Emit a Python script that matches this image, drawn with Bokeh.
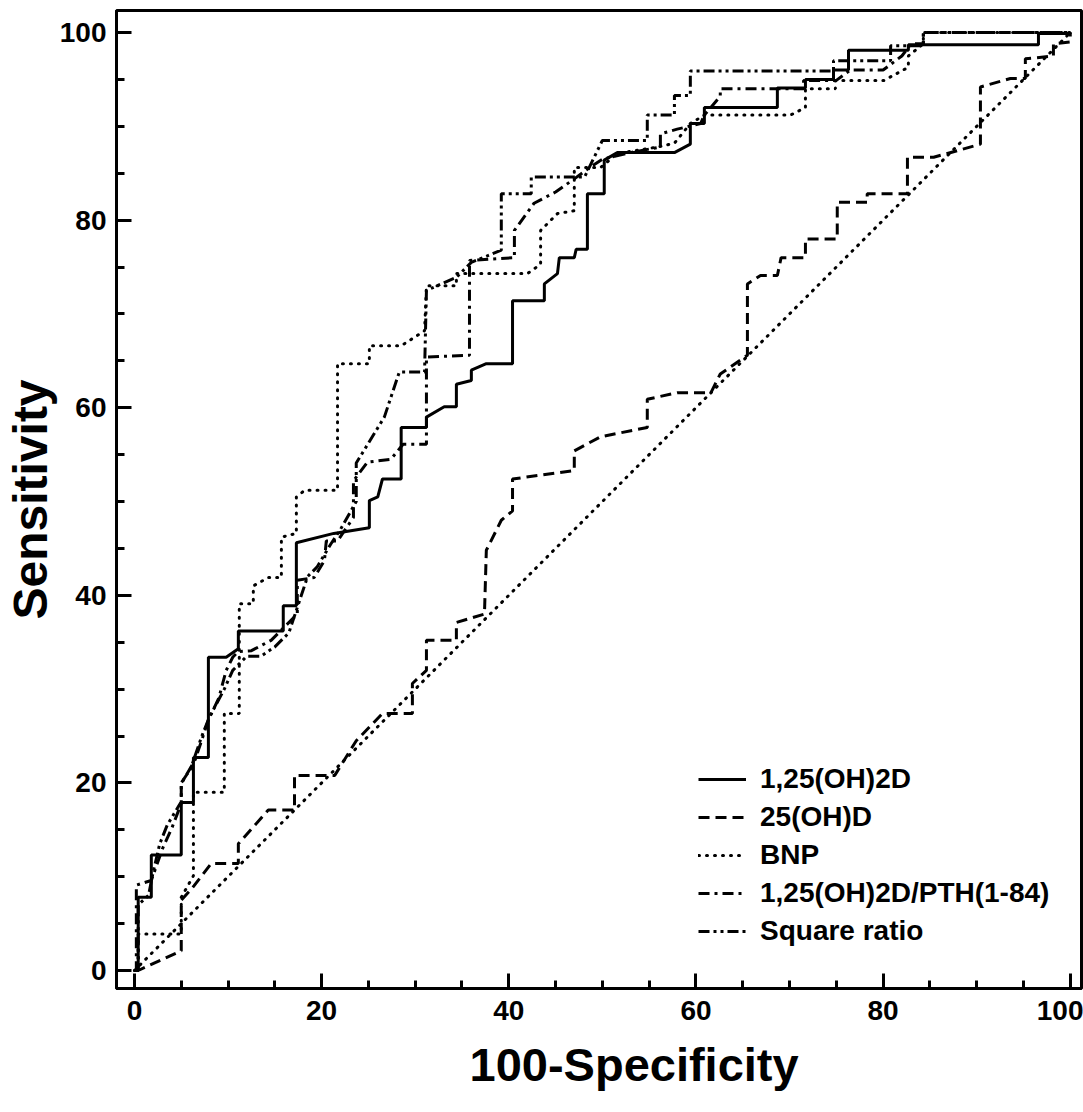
from bokeh.plotting import figure
from bokeh.models import Range1d, Legend, LegendItem, SingleIntervalTicker, Title
from bokeh.embed import file_html
from bokeh.resources import INLINE

FONT = "Liberation Sans"

# ---- data ----
d125_x = [0, 0.4, 0.4, 1.8, 1.8, 5.0, 5.0, 6.3, 6.3, 7.9, 7.9, 9.8, 11.1, 11.1, 15.9, 15.9, 17.3, 17.3, 21.3, 25.1, 25.1,
          26.0, 26.5, 28.5, 28.5, 31.2, 31.2, 33.1, 34.4, 34.4, 36.0, 36.0, 37.6, 40.4, 40.4, 43.8, 43.8, 45.2, 45.4,
          47.0, 47.2, 48.4, 48.4, 50.2, 50.2, 51.6, 57.7, 59.4, 59.4, 60.9, 60.9, 68.7, 68.7, 71.7, 71.7, 74.7, 74.7,
          76.3, 76.3, 82.7, 82.7, 96.6, 96.6, 100, 100]
d125_y = [0, 0, 7.8, 7.8, 12.3, 12.3, 17.9, 17.9, 22.7, 22.7, 33.4, 33.4, 34.3, 36.2, 36.2, 38.9, 38.9, 45.6, 46.6, 47.2,
          50.1, 50.5, 52.4, 52.4, 57.9, 57.9, 59.0, 60.1, 60.1, 62.5, 62.9, 64.0, 64.7, 64.7, 71.4, 71.4, 73.2, 74.3,
          76.0, 76.0, 76.9, 76.9, 82.8, 82.8, 86.4, 87.2, 87.2, 88.1, 90.3, 90.3, 92.0, 92.0, 94.1, 94.1, 95.0, 95.0,
          96.0, 96.0, 98.1, 98.1, 98.7, 98.7, 99.9, 99.9, 100]

d25_x = [0, 0.4, 5.0, 5.0, 6.1, 8.2, 11.1, 11.1, 14.3, 17.1, 17.1, 21.4, 23.7, 26.5, 29.7, 29.7, 31.2, 31.2, 34.4, 34.4,
         37.4, 37.6, 39.2, 40.4, 40.4, 47.0, 47.0, 49.8, 54.8, 54.8, 58.0, 61.6, 62.6, 65.5, 65.5, 66.9, 68.7, 69.1,
         71.7, 71.7, 75.1, 75.1, 78.3, 78.3, 82.6, 82.6, 85.4, 90.4, 90.4, 93.6, 95.2, 95.2, 98.2, 98.2, 100, 100]
d25_y = [0, 0, 2.1, 7.5, 8.7, 11.4, 11.4, 13.5, 17.1, 17.1, 20.8, 20.8, 24.5, 27.4, 27.4, 30.6, 32.0, 35.2, 35.2, 37.1,
         38.0, 44.8, 48.0, 49.0, 52.4, 53.3, 55.4, 56.9, 57.9, 60.9, 61.6, 61.6, 63.6, 65.6, 73.2, 74.1, 74.1, 76.0,
         76.0, 78.0, 78.0, 81.9, 81.9, 82.8, 82.8, 86.7, 86.7, 88.1, 94.2, 95.1, 95.1, 97.2, 97.5, 98.8, 99.0, 100]

bnp_x = [0, 0.4, 0.4, 5.0, 5.0, 6.3, 6.3, 9.6, 9.6, 11.2, 11.2, 12.7, 12.7, 14.3, 15.7, 15.7, 17.3, 17.3, 18.2, 21.7,
         21.7, 25.1, 25.1, 28.5, 31.0, 31.2, 34.4, 34.4, 42.0, 43.4, 43.4, 45.2, 47.0, 47.0, 49.8, 51.6, 55.9, 57.7,
         59.4, 60.9, 70.1, 71.7, 71.7, 74.9, 74.9, 80.1, 82.7, 82.7, 84.3, 84.3, 100]
bnp_y = [0, 0, 3.9, 3.9, 7.8, 10.1, 19.0, 19.0, 27.4, 27.4, 39.1, 39.1, 41.0, 41.9, 41.9, 46.2, 46.6, 50.5, 51.2, 51.2,
         64.7, 64.7, 66.6, 66.6, 68.2, 73.0, 73.0, 74.3, 74.3, 75.3, 78.9, 80.7, 81.0, 85.6, 85.6, 87.1, 87.8, 88.2,
         90.3, 91.2, 91.2, 92.0, 94.0, 94.0, 94.9, 94.9, 96.3, 97.5, 98.8, 100, 100]

pth_x = [0, 0.2, 0.2, 1.8, 3.0, 4.0, 5.0, 5.0, 6.5, 7.9, 9.0, 9.8, 10.5, 11.1, 12.5, 14.6, 16.0, 17.4, 17.4, 19.2, 20.3,
         20.5, 21.7, 23.4, 23.4, 24.9, 27.4, 28.7, 31.2, 31.2, 35.8, 35.8, 40.6, 40.6, 42.7, 45.0, 47.0, 48.5, 50.0,
         53.0, 56.2, 56.2, 58.0, 60.5, 60.9, 62.6, 62.6, 71.5, 71.5, 75.0, 76.5, 80.0, 82.0, 83.0, 84.3, 84.3, 100]
pth_y = [0, 0, 9.1, 9.6, 13.0, 15.2, 17.8, 19.9, 22.5, 26.7, 29.0, 32.0, 33.4, 34.0, 34.1, 35.2, 36.6, 38.0, 41.6, 41.9,
         43.7, 45.8, 45.8, 48.3, 52.2, 54.2, 54.5, 56.1, 56.1, 65.4, 65.6, 75.7, 76.0, 78.9, 81.8, 83.0, 84.4, 85.5,
         86.5, 87.2, 87.8, 89.2, 89.7, 90.3, 91.2, 93.2, 94.0, 94.0, 94.9, 94.9, 96.0, 96.0, 97.5, 98.8, 98.8, 100, 100]

sq_x = [0, 0.4, 0.4, 1.5, 2.0, 2.7, 3.5, 5.0, 5.0, 6.0, 7.2, 8.0, 9.6, 10.5, 12.0, 13.5, 15.0, 16.5, 17.5, 18.5, 19.5,
        21.0, 22.0, 23.7, 23.7, 26.7, 28.3, 31.0, 31.2, 34.4, 36.0, 39.2, 39.2, 42.4, 42.4, 48.1, 50.0, 54.8, 54.8,
        57.7, 57.7, 59.4, 59.4, 74.7, 74.7, 80.8, 80.8, 84.3, 84.3, 100]
sq_y = [0, 0, 7.0, 8.0, 10.5, 13.5, 15.5, 18.0, 20.0, 21.5, 25.0, 27.0, 30.0, 32.0, 33.5, 33.5, 34.5, 36.0, 39.0, 42.0,
        43.0, 45.5, 47.0, 50.0, 54.1, 59.0, 63.8, 63.8, 72.5, 73.9, 75.5, 76.8, 82.8, 82.8, 84.6, 84.6, 88.5, 88.5,
        91.2, 91.2, 93.3, 93.3, 95.9, 95.9, 97.0, 97.0, 98.6, 98.6, 100, 100]

ref_x = [0, 100]
ref_y = [0, 100]

labels = ["1,25(OH)2D", "25(OH)D", "BNP", "1,25(OH)2D/PTH(1-84)", "Square ratio"]
x_title = "100-Specificity"
y_title = "Sensitivity"

# ---- figure ----
p = figure(width=1083, height=1110, output_backend="svg", toolbar_location=None,
           x_range=Range1d(-1.92, 101.2), y_range=Range1d(-1.92, 102.35),
           min_border_left=115, min_border_right=2, min_border_top=10, min_border_bottom=122)
p.grid.visible = False
p.outline_line_color = "black"
p.outline_line_width = 3
p.background_fill_color = "white"
p.border_fill_color = "white"

for ax in (p.xaxis[0], p.yaxis[0]):
    ax.ticker = SingleIntervalTicker(interval=20, num_minor_ticks=4)
    ax.axis_line_width = 3
    ax.major_tick_line_width = 3
    ax.minor_tick_line_width = 3
    ax.major_tick_in = 15
    ax.major_tick_out = 0
    ax.minor_tick_in = 8
    ax.minor_tick_out = 0
    ax.major_label_text_font = FONT
    ax.major_label_text_font_style = "bold"
    ax.major_label_text_font_size = "28px"
    ax.major_label_text_color = "black"
    ax.axis_label_text_font = FONT
    ax.axis_label_text_font_style = "bold"
    ax.axis_label_text_font_size = "48px"
    ax.axis_label_text_color = "black"
    ax.axis_label_standoff = 0

p.yaxis.axis_label = y_title
p.xaxis.major_label_standoff = 12
p.yaxis.major_label_standoff = 10

p.add_layout(Title(text=x_title, align="left", offset=353, standoff=26,
                   text_font=FONT, text_font_style="bold", text_font_size="47px", text_color="black"), "below")

p.line(ref_x, ref_y, line_color="black", line_width=3, line_dash="1 7", line_cap="round")

r1 = p.line(d125_x, d125_y, line_color="black", line_width=3)
r2 = p.line(d25_x, d25_y, line_color="black", line_width=3, line_dash="11 6")
r3 = p.line(bnp_x, bnp_y, line_color="black", line_width=3, line_dash="1 7", line_cap="round")
r4 = p.line(pth_x, pth_y, line_color="black", line_width=3, line_dash="11 5 3 5")
r5 = p.line(sq_x, sq_y, line_color="black", line_width=3, line_dash="11 4 3 4 3 4")

legend = Legend(items=[LegendItem(label=labels[i], renderers=[r]) for i, r in enumerate([r1, r2, r3, r4, r5])],
                location=(582, 41), border_line_alpha=0, background_fill_alpha=0, padding=0, margin=0,
                spacing=6, glyph_width=48, glyph_height=30, label_height=30, label_standoff=14,
                label_text_font=FONT, label_text_font_style="bold", label_text_font_size="28px",
                label_text_color="black")
p.add_layout(legend)

open("out.html", "w").write(file_html(p, INLINE))
